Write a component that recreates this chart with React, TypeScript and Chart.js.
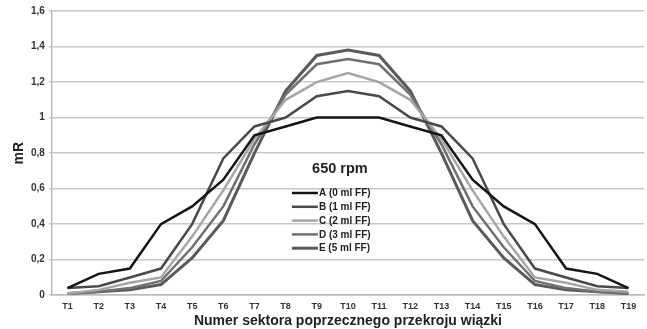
import React, { useEffect, useRef } from "react";
import { Chart, registerables } from "chart.js";

Chart.register(...registerables);

const categories = ["T1","T2","T3","T4","T5","T6","T7","T8","T9","T10","T11","T12","T13","T14","T15","T16","T17","T18","T19"];
const seriesA = [0.04,0.12,0.15,0.40,0.50,0.65,0.90,0.95,1.0,1.0,1.0,0.95,0.90,0.65,0.50,0.40,0.15,0.12,0.04];
const seriesB = [0.04,0.05,0.10,0.15,0.40,0.77,0.95,1.0,1.12,1.15,1.12,1.0,0.95,0.77,0.40,0.15,0.10,0.05,0.04];
const seriesC = [0.01,0.03,0.07,0.10,0.33,0.59,0.88,1.10,1.20,1.25,1.20,1.10,0.88,0.59,0.33,0.10,0.07,0.03,0.02];
const seriesD = [0.01,0.02,0.04,0.08,0.27,0.50,0.85,1.13,1.30,1.33,1.30,1.13,0.85,0.50,0.27,0.08,0.04,0.02,0.01];
const seriesE = [0.01,0.02,0.03,0.06,0.21,0.42,0.80,1.15,1.35,1.38,1.35,1.15,0.80,0.42,0.21,0.06,0.03,0.02,0.01];
const seriesLabels = ["A (0 ml FF)","B (1 ml FF)","C (2 ml FF)","D (3 ml FF)","E (5 ml FF)"];
const chartTitle = "650 rpm";
const xTitle = "Numer sektora poprzecznego przekroju wiązki";
const yTitle = "mR";

const FONT = "'Liberation Sans', Arial, sans-serif";

const overlayPlugin = {
  id: "overlay",
  afterDatasetsDraw(chart: any) {
    const ctx = chart.ctx;
    const area = chart.chartArea;
    ctx.save();
    ctx.fillStyle = "#222";
    ctx.font = `bold 14.5px ${FONT}`;
    ctx.textAlign = "center";
    ctx.textBaseline = "middle";
    ctx.fillText(chartTitle, area.left + 288, 169);
    const x0 = area.left + 240;
    const y0 = 193;
    const step = 13.8;
    ctx.font = `bold 10px ${FONT}`;
    ctx.textAlign = "left";
    chart.data.datasets.forEach((ds: any, i: number) => {
      const y = y0 + i * step;
      ctx.strokeStyle = ds.borderColor;
      ctx.lineWidth = ds.borderWidth;
      ctx.beginPath();
      ctx.moveTo(x0, y);
      ctx.lineTo(x0 + 26, y);
      ctx.stroke();
      ctx.fillStyle = "#222";
      ctx.fillText(ds.label, x0 + 27, y + 0.5);
    });
    ctx.restore();
  },
};

export default function App() {
  const ref = useRef<HTMLCanvasElement | null>(null);
  useEffect(() => {
    document.body.style.margin = "0";
    const colors = ["#151515", "#4a4a4a", "#a6a6a6", "#707070", "#5a5a5a"];
    const widths = [2.5, 2.5, 2.5, 2.5, 3];
    const data = [seriesA, seriesB, seriesC, seriesD, seriesE];
    const chart = new Chart(ref.current as HTMLCanvasElement, {
      type: "line",
      data: {
        labels: categories,
        datasets: data.map((d, i) => ({
          label: seriesLabels[i],
          data: d,
          borderColor: colors[i],
          backgroundColor: colors[i],
          borderWidth: widths[i],
          pointRadius: 0,
          tension: 0,
          fill: false,
        })),
      },
      options: {
        animation: false,
        responsive: false,
        layout: { padding: { top: 11, right: 3, left: 12, bottom: 1 } },
        plugins: {
          legend: { display: false },
          tooltip: { enabled: false },
        },
        scales: {
          x: {
            offset: true,
            grid: { display: false, drawOnChartArea: false, drawTicks: true, tickLength: 4, color: "#bbb" },
            border: { color: "#bbb", width: 1.5 },
            ticks: { color: "#333", font: { family: FONT, size: 9, weight: "bold" }, padding: 2, autoSkip: false, maxRotation: 0 },
            title: { display: true, text: xTitle, color: "#222", font: { family: FONT, size: 14, weight: "bold", lineHeight: 1 }, padding: { top: 0, bottom: 0 } },
          },
          y: {
            min: 0,
            max: 1.6,
            ticks: {
              stepSize: 0.2,
              color: "#333",
              font: { family: FONT, size: 10, weight: "bold" },
              padding: 4,
              callback: (v: any) => {
                let s = Number(v).toFixed(1);
                if (s.endsWith(".0")) s = s.slice(0, -2);
                return s.replace(".", ",");
              },
            },
            grid: { color: "#c8c8c8", lineWidth: 1.5, tickLength: 3 },
            border: { color: "#bbb", width: 1.5 },
            title: { display: true, text: yTitle, color: "#222", font: { family: FONT, size: 14, weight: "bold", lineHeight: 1 }, padding: { top: 0, bottom: 1 } },
          },
        },
      },
      plugins: [overlayPlugin],
    } as any);
    return () => chart.destroy();
  }, []);
  return (
    <div style={{ width: 647, height: 329 }}>
      <canvas ref={ref} width={647} height={329} style={{ width: 647, height: 329, display: "block" }} />
    </div>
  );
}
